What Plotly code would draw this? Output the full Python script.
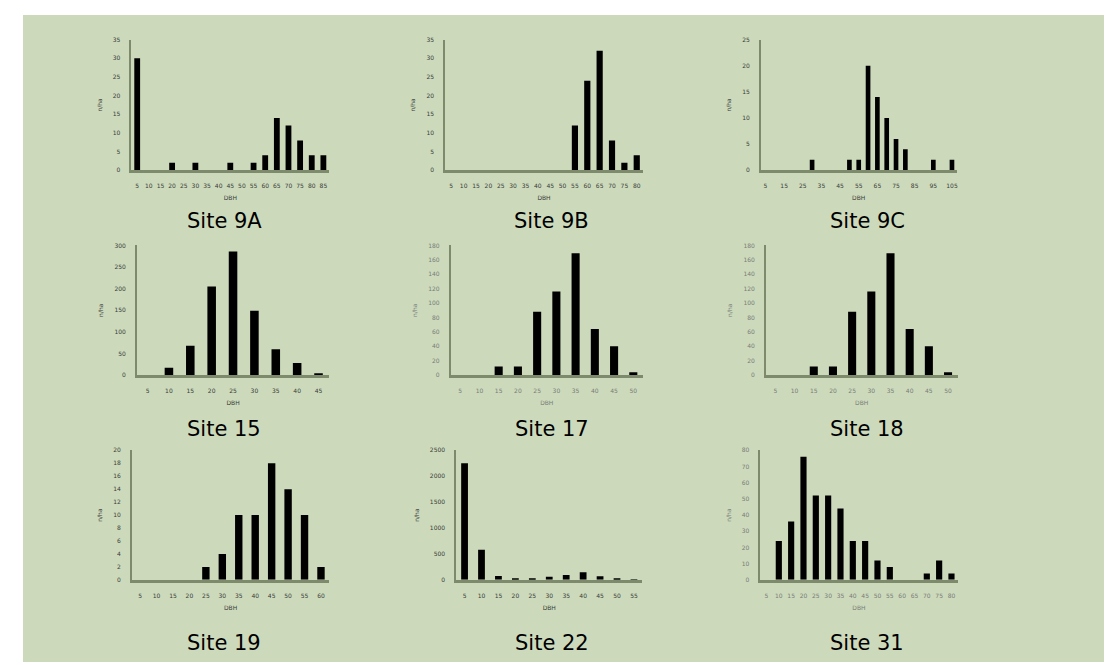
import plotly.graph_objects as go

W, H = 1115, 665

# ---------------- data ----------------
dbh_9a = [5, 10, 15, 20, 25, 30, 35, 40, 45, 50, 55, 60, 65, 70, 75, 80, 85]
n_9a = [30, 0, 0, 2, 0, 2, 0, 0, 2, 0, 2, 4, 14, 12, 8, 4, 4]

dbh_9b = [5, 10, 15, 20, 25, 30, 35, 40, 45, 50, 55, 60, 65, 70, 75, 80]
n_9b = [0, 0, 0, 0, 0, 0, 0, 0, 0, 0, 12, 24, 32, 8, 2, 4]

dbh_9c = [5, 10, 15, 20, 25, 30, 35, 40, 45, 50, 55, 60, 65, 70, 75, 80, 85, 90, 95, 100, 105]
n_9c = [0, 0, 0, 0, 0, 2, 0, 0, 0, 2, 2, 20, 14, 10, 6, 4, 0, 0, 2, 0, 2]
ticks_9c = [5, 15, 25, 35, 45, 55, 65, 75, 85, 95, 105]

dbh_15 = [5, 10, 15, 20, 25, 30, 35, 40, 45]
n_15 = [0, 17, 68, 205, 286, 149, 60, 28, 4]

dbh_17 = [5, 10, 15, 20, 25, 30, 35, 40, 45, 50]
n_17 = [0, 0, 12, 12, 88, 116, 169, 64, 40, 4]

dbh_18 = [5, 10, 15, 20, 25, 30, 35, 40, 45, 50]
n_18 = [0, 0, 12, 12, 88, 116, 169, 64, 40, 4]

dbh_19 = [5, 10, 15, 20, 25, 30, 35, 40, 45, 50, 55, 60]
n_19 = [0, 0, 0, 0, 2, 4, 10, 10, 18, 14, 10, 2]

dbh_22 = [5, 10, 15, 20, 25, 30, 35, 40, 45, 50, 55]
n_22 = [2250, 580, 75, 25, 30, 60, 95, 145, 70, 25, 10]

dbh_31 = [5, 10, 15, 20, 25, 30, 35, 40, 45, 50, 55, 60, 65, 70, 75, 80]
n_31 = [0, 24, 36, 76, 52, 52, 44, 24, 24, 12, 8, 0, 0, 4, 12, 4]

titles = ["Site 9A", "Site 9B", "Site 9C", "Site 15", "Site 17", "Site 18",
          "Site 19", "Site 22", "Site 31"]
y_max = [35, 35, 25, 300, 180, 180, 20, 2500, 80]
y_step = [5, 5, 5, 50, 20, 20, 2, 500, 10]
y_title = "n/ha"
x_title = "DBH"

# ---------------- layout geometry (pixels) ----------------
panels = [
    (dbh_9a, n_9a, None, (131.5, 329.5), (36, 168), 0.5, "#3a3a3a"),
    (dbh_9b, n_9b, None, (445.5, 643.5), (36, 168), 0.5, "#3a3a3a"),
    (dbh_9c, n_9c, ticks_9c, (761.5, 957.5), (36, 168), 0.5, "#3a3a3a"),
    (dbh_15, n_15, None, (137, 329.5), (244, 375), 0.6, "#3a3a3a"),
    (dbh_17, n_17, None, (451, 643.5), (244, 375), 0.58, "#7a7a7a"),
    (dbh_18, n_18, None, (766.5, 958.5), (244, 375), 0.58, "#7a7a7a"),
    (dbh_19, n_19, None, (132, 329.5), (451, 582), 0.55, "#3a3a3a"),
    (dbh_22, n_22, None, (456.5, 643), (451, 582), 0.6, "#3a3a3a"),
    (dbh_31, n_31, None, (761, 958.5), (451, 582), 0.5, "#7a7a7a"),
]
title_pos = [(225, 219), (552, 219), (868, 219),
             (224, 430), (552, 430), (868, 430),
             (224, 646), (552, 646), (868, 646)]

axis_col = "#7d8a6c"
bg = "#ccdabb"


def px(x):
    return x / W


def py(y):
    return 1 - y / H


fig = go.Figure()
layout = dict(
    width=W, height=H,
    margin=dict(l=0, r=0, t=0, b=0),
    paper_bgcolor="white",
    plot_bgcolor="rgba(0,0,0,0)",
    showlegend=False,
    font=dict(family="DejaVu Sans", color="#333"),
    shapes=[dict(type="rect", xref="paper", yref="paper",
                 x0=px(23), x1=px(1105), y0=0, y1=py(11),
                 fillcolor=bg, line=dict(width=0), layer="below")],
    annotations=[],
)

for i, (cats, vals, tv, (x0, x1), (ytop, ybot), gap, tcol) in enumerate(panels):
    k = "" if i == 0 else str(i + 1)
    cat_s = [str(c) for c in cats]
    fig.add_trace(go.Bar(x=cat_s, y=vals, xaxis="x" + k, yaxis="y" + k,
                         width=1 - gap,
                         marker=dict(color="black", line=dict(width=0))))
    labels = [str(c) for c in (tv if tv else cats)]
    layout["xaxis" + k] = dict(
        domain=[px(x0), px(x1)], anchor="y" + k, type="category",
        range=[-0.5, len(cats) - 0.5],
        showline=True, linecolor=axis_col, linewidth=2.5,
        showgrid=False, zeroline=False, ticks="",
        tickmode="array", tickvals=labels, ticktext=labels,
        tickfont=dict(size=6, color=tcol), tickangle=0,
        ticklabelstandoff=8,
        title=dict(text=x_title, font=dict(size=6, color=tcol), standoff=8),
    )
    layout["yaxis" + k] = dict(
        domain=[py(ybot), py(ytop)], anchor="x" + k,
        range=[0, y_max[i]], dtick=y_step[i], tick0=0,
        showline=True, linecolor=axis_col, linewidth=1.5,
        showgrid=False, zeroline=False, ticks="",
        tickfont=dict(size=6, color=tcol),
        ticklabelstandoff=8,
        title=dict(text=y_title, font=dict(size=6, color=tcol), standoff=10),
    )
    tx, ty = title_pos[i]
    layout["annotations"].append(dict(
        text=titles[i], xref="paper", yref="paper",
        x=px(tx), y=py(ty), xanchor="center", yanchor="middle",
        showarrow=False, font=dict(size=21, color="black", family="DejaVu Sans")))

fig.update_layout(**layout)
fig.write_html("out.html",
               config={"displayModeBar": False},
               post_script="document.body.style.margin='0';document.body.style.overflow='hidden';")
